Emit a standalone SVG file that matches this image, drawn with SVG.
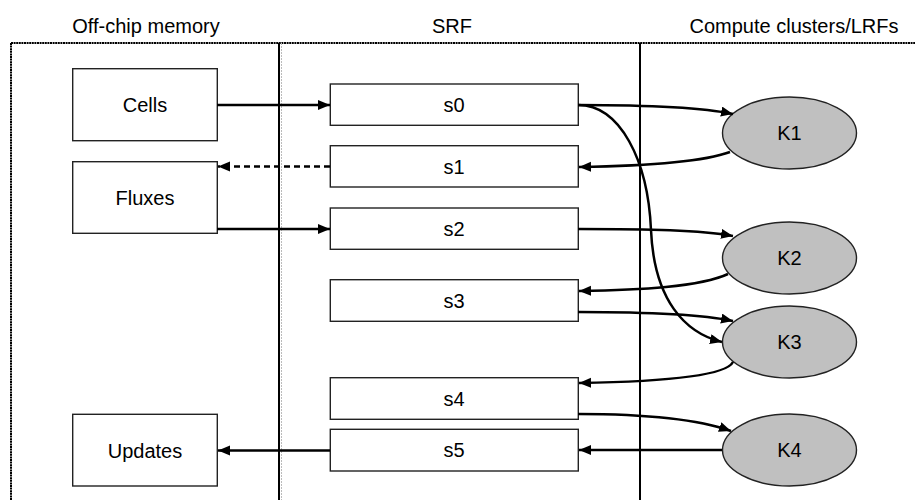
<svg xmlns="http://www.w3.org/2000/svg" width="915" height="500" viewBox="0 0 915 500">
<style>
  text { font-family: "Liberation Sans", Arial, sans-serif; font-size: 20px; fill: #000; text-anchor: middle; }
  .box { fill: #fff; stroke: #222; stroke-width: 1.4; }
  .kern { fill: #c0c0c0; stroke: #222; stroke-width: 1.4; }
  .conn { fill: none; stroke: #000; stroke-width: 2.5; marker-end: url(#arr); }
  .dash { stroke-dasharray: 6 4; }
  .frame { fill: none; stroke: #000; stroke-width: 2; stroke-dasharray: 2 0.6; }
</style>
<defs>
  <marker id="arr" markerUnits="userSpaceOnUse" markerWidth="14" markerHeight="12" refX="12" refY="5" orient="auto">
    <path d="M0,0 L12,5 L0,10 z" fill="#000"/>
  </marker>
</defs>
<rect width="915" height="500" fill="#fff"/>

<g id="frame">
  <line class="frame" x1="11" y1="43" x2="915" y2="43"/>
  <line class="frame" x1="11" y1="43" x2="11" y2="500"/>
  <line x1="281.5" y1="43" x2="281.5" y2="500" stroke="#bbb" stroke-width="1" stroke-dasharray="2 1"/>
  <line x1="279" y1="43" x2="279" y2="500" stroke="#000" stroke-width="2"/>
  <line x1="640" y1="43" x2="640" y2="500" stroke="#000" stroke-width="2"/>
  <text x="146" y="33">Off-chip memory</text>
  <text x="452" y="33">SRF</text>
  <text x="794" y="33">Compute clusters/LRFs</text>
</g>

<g id="cells"><rect class="box" x="72.7" y="68.7" width="144.6" height="72"/><text x="145" y="112">Cells</text></g>
<g id="fluxes"><rect class="box" x="72.7" y="161.7" width="144.6" height="71.6"/><text x="145" y="205">Fluxes</text></g>
<g id="updates"><rect class="box" x="72.7" y="414.3" width="144.6" height="71.7"/><text x="145" y="457.5">Updates</text></g>

<g id="s0"><rect class="box" x="330.3" y="84" width="248" height="41.3"/><text x="454" y="112">s0</text></g>
<g id="s1"><rect class="box" x="330.3" y="145.7" width="248" height="41.3"/><text x="454" y="173.5">s1</text></g>
<g id="s2"><rect class="box" x="330.3" y="208" width="248" height="41.3"/><text x="454" y="236">s2</text></g>
<g id="s3"><rect class="box" x="330.3" y="279.7" width="248" height="41.6"/><text x="454" y="307.5">s3</text></g>
<g id="s4"><rect class="box" x="330.3" y="377.7" width="248" height="41.6"/><text x="454" y="405.5">s4</text></g>
<g id="s5"><rect class="box" x="330.3" y="429.3" width="248" height="41.7"/><text x="454" y="457">s5</text></g>

<g id="K1"><ellipse class="kern" cx="789.5" cy="133" rx="67" ry="36"/><text x="789.5" y="140">K1</text></g>
<g id="K2"><ellipse class="kern" cx="789.5" cy="258" rx="67" ry="36"/><text x="789.5" y="265">K2</text></g>
<g id="K3"><ellipse class="kern" cx="789.5" cy="342" rx="67" ry="36"/><text x="789.5" y="349">K3</text></g>
<g id="K4"><ellipse class="kern" cx="789.5" cy="450" rx="67" ry="36"/><text x="789.5" y="457">K4</text></g>

<g id="connectors">
  <path class="conn" d="M217,105 L330,105"/>
  <path class="conn dash" d="M330,166.5 L218,166.5"/>
  <path class="conn" d="M217,229 L330,229"/>
  <path class="conn" d="M330,450.5 L218,450.5"/>
  <path class="conn" d="M578,105 C650,105 700,107 733,114"/>
  <path class="conn" d="M730,152 C700,163 640,166 579,167"/>
  <path class="conn" d="M578,105 C620,105 648,160 651,230 C654,300 685,333 722,342"/>
  <path class="conn" d="M578,229 C650,229 700,230 733,236"/>
  <path class="conn" d="M728,274 C700,287 640,290 579,291"/>
  <path class="conn" d="M578,312 C650,312 700,314 733,321"/>
  <path class="conn" d="M733,362 C725,378 640,382 579,383"/>
  <path class="conn" d="M578,414 C650,414 700,420 731,431"/>
  <path class="conn" d="M722,450 L579,450"/>
</g>
</svg>
